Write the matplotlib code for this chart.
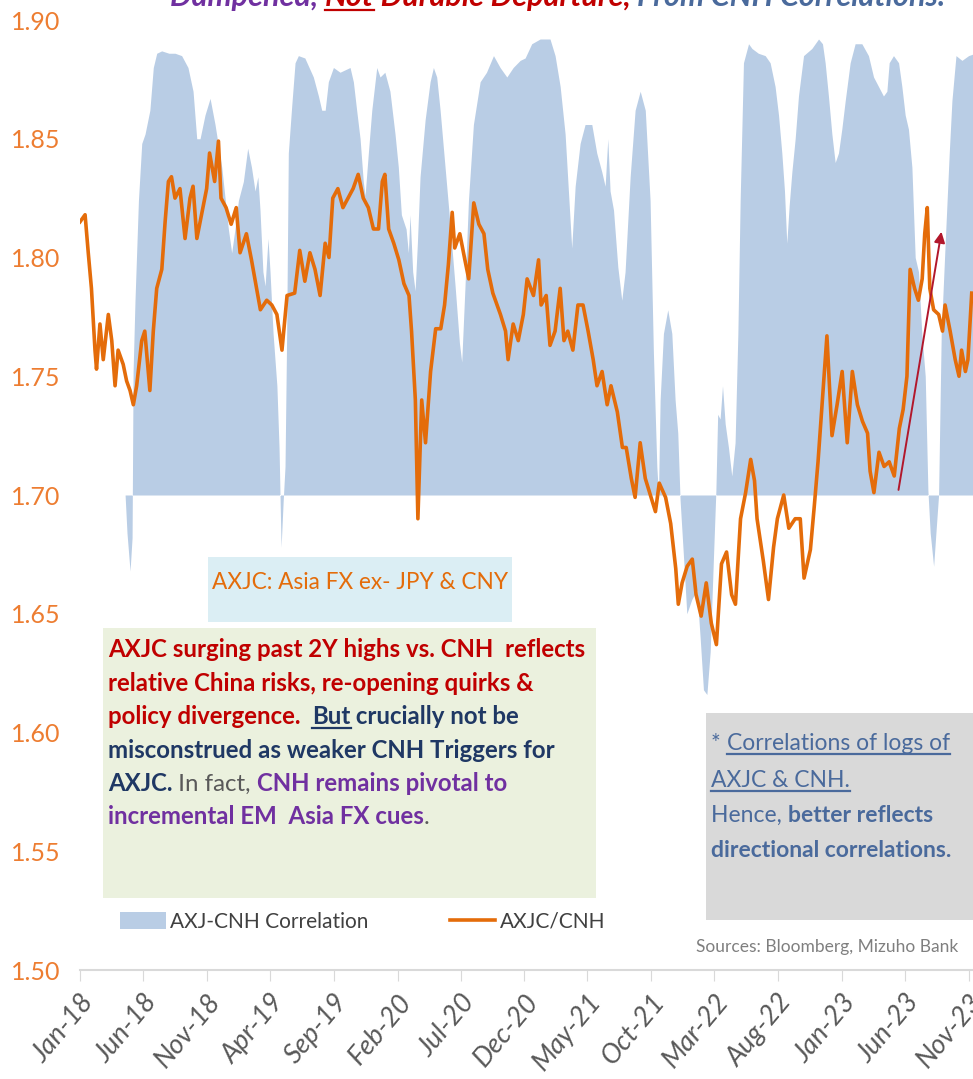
import numpy as np
import pandas as pd
import matplotlib
matplotlib.use("Agg")
import matplotlib.pyplot as plt
from matplotlib.lines import Line2D
from matplotlib.patches import Patch, Rectangle

# AXJC/CNH level (months since Jan-18, level)
axjc_months = [
    0.0, 0.4, 0.65, 0.9, 1.18, 1.3, 1.57, 1.83, 2.23, 2.5, 2.76, 3.0, 3.4, 3.67, 3.94,
    4.2, 4.46, 4.86, 5.1, 5.5, 5.77, 6.04, 6.44, 6.7, 6.96, 7.2, 7.48, 7.87, 8.27, 8.66,
    8.9, 9.2, 9.6, 9.97, 10.2, 10.6, 10.9, 11.1, 11.5, 11.9, 12.3, 12.6, 13.1, 13.5, 13.9,
    14.2, 14.7, 15.1, 15.5, 15.9, 16.3, 16.9, 17.3, 17.7, 18.1, 18.5, 18.9, 19.3, 19.6, 19.9,
    20.3, 20.7, 21.1, 21.5, 21.9, 22.3, 22.7, 23.1, 23.5, 23.8, 24.0, 24.3, 24.7, 25.1, 25.5,
    25.9, 26.1, 26.4, 26.6, 26.9, 27.2, 27.6, 28.0, 28.4, 28.7, 29.0, 29.3, 29.5, 29.9, 30.3,
    30.6, 31.0, 31.4, 31.8, 32.1, 32.5, 33.1, 33.5, 33.7, 34.1, 34.5, 34.9, 35.2, 35.7, 36.1,
    36.3, 36.7, 37.0, 37.4, 37.8, 38.1, 38.4, 38.8, 39.2, 39.6, 40.0, 40.4, 40.7, 41.1, 41.5,
    41.8, 42.3, 42.7, 43.0, 43.4, 43.7, 44.1, 44.5, 44.9, 45.3, 45.6, 46.1, 46.5, 46.9, 47.1,
    47.4, 47.8, 48.2, 48.5, 48.9, 49.3, 49.7, 50.1, 50.5, 50.9, 51.3, 51.6, 52.0, 52.4, 52.8,
    53.1, 53.3, 53.8, 54.2, 54.6, 54.9, 55.4, 55.8, 56.3, 56.7, 57.0, 57.5, 57.8, 58.1, 58.4,
    58.8, 59.2, 59.6, 60.0, 60.4, 60.8, 61.2, 61.6, 62.0, 62.2, 62.5, 62.9, 63.3, 63.7, 64.1,
    64.5, 64.8, 65.1, 65.35, 65.7, 66.0, 66.3, 66.5, 66.7, 66.9, 67.2, 67.6, 67.9, 68.1, 68.5,
    68.9, 69.2, 69.4, 69.7, 69.9, 70.2,
]
axjc_level = [
    1.815, 1.818, 1.802, 1.787, 1.761, 1.753, 1.772, 1.757, 1.776, 1.765, 1.746, 1.761, 1.755, 1.748, 1.744,
    1.738, 1.746, 1.765, 1.769, 1.744, 1.769, 1.787, 1.795, 1.815, 1.832, 1.834, 1.825, 1.829, 1.808, 1.825,
    1.830, 1.808, 1.819, 1.829, 1.844, 1.832, 1.849, 1.825, 1.821, 1.814, 1.821, 1.802, 1.810, 1.799, 1.787,
    1.778, 1.782, 1.780, 1.776, 1.761, 1.784, 1.785, 1.803, 1.790, 1.802, 1.795, 1.784, 1.806, 1.800, 1.825,
    1.829, 1.821, 1.825, 1.829, 1.835, 1.825, 1.821, 1.812, 1.812, 1.832, 1.835, 1.812, 1.806, 1.799, 1.789,
    1.784, 1.769, 1.740, 1.690, 1.740, 1.722, 1.752, 1.770, 1.770, 1.780, 1.797, 1.819, 1.804, 1.810, 1.799,
    1.791, 1.823, 1.814, 1.810, 1.795, 1.785, 1.776, 1.769, 1.757, 1.772, 1.765, 1.776, 1.791, 1.784, 1.799,
    1.780, 1.784, 1.763, 1.769, 1.787, 1.765, 1.769, 1.761, 1.780, 1.780, 1.769, 1.757, 1.746, 1.752, 1.738,
    1.746, 1.735, 1.720, 1.720, 1.707, 1.699, 1.722, 1.707, 1.700, 1.693, 1.705, 1.699, 1.688, 1.669, 1.654,
    1.663, 1.670, 1.673, 1.658, 1.649, 1.663, 1.646, 1.637, 1.671, 1.676, 1.658, 1.654, 1.690, 1.701, 1.715,
    1.706, 1.690, 1.672, 1.656, 1.678, 1.690, 1.700, 1.686, 1.690, 1.690, 1.665, 1.677, 1.695, 1.714, 1.737,
    1.767, 1.725, 1.738, 1.752, 1.722, 1.752, 1.738, 1.731, 1.726, 1.710, 1.701, 1.718, 1.712, 1.714, 1.708,
    1.728, 1.736, 1.750, 1.795, 1.787, 1.782, 1.791, 1.810, 1.821, 1.787, 1.778, 1.776, 1.769, 1.780, 1.769,
    1.757, 1.750, 1.761, 1.752, 1.757, 1.785,
]

# AXJ-CNH correlation (of logs)
corr_months = [
    3.55, 3.7, 3.94, 4.1, 4.18, 4.33, 4.6, 4.86, 5.12, 5.5, 5.77, 6.04, 6.43, 7.0, 7.48,
    8.0, 8.5, 8.9, 9.19, 9.45, 9.84, 10.24, 10.63, 11.16, 11.68, 11.94, 12.2, 12.47, 12.86, 13.2,
    13.5, 13.78, 14.0, 14.17, 14.4, 14.57, 14.8, 14.96, 15.2, 15.5, 15.67, 15.83, 16.0, 16.14, 16.27,
    16.4, 16.67, 16.93, 17.19, 17.7, 18.37, 18.77, 19.03, 19.3, 19.55, 19.95, 20.47, 21.26, 21.52, 21.78,
    22.05, 22.3, 22.44, 22.7, 22.97, 23.36, 23.62, 24.0, 24.4, 24.8, 25.06, 25.3, 25.67, 25.85, 25.98,
    26.19, 26.38, 26.56, 26.77, 27.17, 27.56, 27.82, 28.08, 28.35, 28.74, 29.13, 29.53, 29.87, 30.05, 30.31,
    30.58, 30.97, 31.5, 32.0, 32.55, 33.07, 33.6, 34.1, 34.65, 35.04, 35.56, 36.22, 37.0, 37.4, 37.8,
    38.19, 38.45, 38.71, 38.98, 39.37, 39.76, 40.29, 40.68, 41.08, 41.34, 41.55, 41.73, 42.0, 42.34, 42.65,
    42.91, 43.31, 43.7, 44.1, 44.5, 44.88, 45.14, 45.41, 45.54, 45.67, 45.93, 46.27, 46.59, 46.85, 47.06,
    47.24, 47.51, 47.77, 48.16, 48.56, 48.82, 49.08, 49.35, 49.61, 49.87, 50.06, 50.2, 50.39, 50.58, 50.79,
    51.05, 51.31, 51.57, 51.79, 51.97, 52.23, 52.63, 52.9, 53.4, 53.94, 54.33, 54.72, 54.99, 55.25, 55.46,
    55.64, 55.83, 56.04, 56.3, 56.56, 56.96, 57.61, 58.14, 58.45, 58.66, 58.92, 59.19, 59.45, 59.71, 59.97,
    60.24, 60.63, 61.02, 61.55, 62.07, 62.47, 62.86, 63.25, 63.52, 63.7, 64.04, 64.44, 64.7, 64.96, 65.22,
    65.49, 65.75, 66.01, 66.27, 66.54, 66.75, 66.93, 67.2, 67.38, 67.59, 67.8, 68.11, 68.43, 68.64, 68.96,
    69.43, 69.95, 70.48,
]
corr_value = [
    0.0, -0.08, -0.16, -0.09, 0.26, 0.41, 0.62, 0.74, 0.76, 0.81, 0.90, 0.93, 0.935, 0.93, 0.93,
    0.925, 0.90, 0.85, 0.75, 0.75, 0.80, 0.835, 0.78, 0.69, 0.56, 0.51, 0.56, 0.62, 0.66, 0.73,
    0.69, 0.64, 0.67, 0.60, 0.47, 0.44, 0.54, 0.47, 0.34, 0.23, 0.10, -0.11, -0.01, 0.06, 0.34,
    0.72, 0.82, 0.91, 0.925, 0.92, 0.88, 0.84, 0.81, 0.81, 0.87, 0.90, 0.89, 0.90, 0.87, 0.81,
    0.75, 0.66, 0.63, 0.72, 0.81, 0.90, 0.88, 0.89, 0.85, 0.76, 0.69, 0.59, 0.56, 0.51, 0.59,
    0.47, 0.43, 0.53, 0.67, 0.79, 0.87, 0.90, 0.88, 0.81, 0.69, 0.57, 0.44, 0.32, 0.28, 0.44,
    0.62, 0.78, 0.87, 0.89, 0.925, 0.90, 0.88, 0.90, 0.915, 0.92, 0.95, 0.96, 0.96, 0.925, 0.86,
    0.76, 0.64, 0.52, 0.65, 0.74, 0.78, 0.78, 0.72, 0.68, 0.65, 0.75, 0.64, 0.60, 0.48, 0.41,
    0.47, 0.67, 0.81, 0.85, 0.81, 0.62, 0.30, 0.06, 0.0, 0.20, 0.34, 0.39, 0.34, 0.20, 0.13,
    -0.01, -0.13, -0.25, -0.22, -0.20, -0.30, -0.41, -0.42, -0.33, -0.13, 0.01, 0.17, 0.16, 0.23, 0.15,
    0.10, 0.04, 0.11, 0.34, 0.62, 0.91, 0.95, 0.94, 0.93, 0.925, 0.91, 0.86, 0.80, 0.72, 0.64,
    0.53, 0.61, 0.68, 0.75, 0.84, 0.925, 0.94, 0.96, 0.95, 0.91, 0.84, 0.76, 0.70, 0.72, 0.77,
    0.83, 0.91, 0.95, 0.95, 0.925, 0.88, 0.86, 0.84, 0.85, 0.91, 0.925, 0.91, 0.86, 0.80, 0.77,
    0.69, 0.50, 0.47, 0.34, 0.25, 0.01, -0.08, -0.15, -0.08, 0.0, 0.34, 0.53, 0.72, 0.83, 0.925,
    0.915, 0.925, 0.93,
]

# hand-drawn arrow on the chart (months, level)
arrow_tail = (64.4, 1.701)
arrow_tip = (67.85, 1.812)

ORANGE = "#E46C0A"
BLUE_FILL = "#B9CDE5"
RED = "#C00000"
NAVY = "#1F3864"
PURPLE = "#7030A0"
GREY_TXT = "#595959"
STEEL = "#4A6A9C"

W, H = 973, 1079
START = pd.Timestamp("2018-01-01")


def to_date(m):
    return START + pd.to_timedelta(np.asarray(m, dtype=float) * 30.4375, unit="D")


plt.rcParams["font.family"] = ["Lato", "DejaVu Sans"]

fig = plt.figure(figsize=(W / 100, H / 100), dpi=100)
ax = fig.add_axes([80 / W, 1 - 970 / H, 1 - 80 / W, 950 / H])
ax2 = ax.twinx()

# correlation as shaded area on hidden secondary axis
cd = to_date(corr_months)
ax2.fill_between(cd, 0, corr_value, color=BLUE_FILL, lw=0)
ax2.set_ylim(-1, 1)
ax2.set_yticks([])
for s in ax2.spines.values():
    s.set_visible(False)

ax.set_zorder(ax2.get_zorder() + 1)
ax.patch.set_visible(False)
ax.plot(to_date(axjc_months), axjc_level, color=ORANGE, lw=2.6, solid_joinstyle="round")

ax.annotate("", xy=(to_date(arrow_tip[0]), arrow_tip[1]),
            xytext=(to_date(arrow_tail[0]), arrow_tail[1]),
            arrowprops=dict(arrowstyle="-|>", color="#B2172B", lw=1.4, mutation_scale=16))

ax.set_ylim(1.50, 1.90)
ax.set_yticks(np.arange(1.50, 1.901, 0.05))
ax.set_yticklabels([f"{v:.2f}" for v in np.arange(1.50, 1.901, 0.05)])
ax.tick_params(axis="y", length=0, labelsize=18, labelcolor="#ED7D31", pad=14)

ticks = pd.date_range("2018-01-01", periods=15, freq="5MS")
ax.set_xlim(START, to_date(70.3))
ax.set_xticks(ticks)
ax.set_xticklabels([t.strftime("%b-%y") for t in ticks], rotation=50, ha="right",
                   va="top", rotation_mode="anchor", fontstyle="italic")
ax.tick_params(axis="x", length=8, color="#D9D9D9", labelsize=19.5, labelcolor=GREY_TXT, pad=6)

for side in ["top", "right", "left"]:
    ax.spines[side].set_visible(False)
ax.spines["bottom"].set_color("#D9D9D9")
ax.spines["bottom"].set_linewidth(1.5)

renderer = fig.canvas.get_renderer()


def box(x0, y0, x1, y1, color):
    fig.patches.append(Rectangle((x0 / W, 1 - y1 / H), (x1 - x0) / W, (y1 - y0) / H,
                                 transform=fig.transFigure, facecolor=color,
                                 edgecolor="none", zorder=4))


def rich_line(x_px, y_px, parts, size, style="normal"):
    x = x_px
    for txt, color, weight, under in parts:
        t = fig.text(x / W, 1 - y_px / H, txt, color=color, fontsize=size, fontweight=weight,
                     fontstyle=style, ha="left", va="baseline", zorder=5)
        w = t.get_window_extent(renderer).width
        if under:
            uy = 1 - (y_px + 4) / H
            fig.add_artist(Line2D([x / W, (x + w) / W], [uy, uy], color=color, lw=1.6,
                                  transform=fig.transFigure, zorder=5))
        x += w


# title, clipped by the top edge as in the source
rich_line(170, 6, [("Dampened, ", PURPLE, "bold", False),
                   ("Not", RED, "bold", True),
                   (" Durable Departure, ", RED, "bold", False),
                   ("From CNH Correlations.", STEEL, "bold", False)], 22, "italic")

# AXJC label
box(208, 557, 512, 622, "#DBEEF4")
rich_line(212, 589, [("AXJC: Asia FX ex- JPY & CNY", ORANGE, "normal", False)], 16.3)

# commentary
box(103, 628, 596, 898, "#EBF1DE")
fs = 17.3
rich_line(108, 657, [("AXJC surging past 2Y highs vs. CNH  reflects", RED, "bold", False)], fs)
rich_line(108, 691, [("relative China risks, re-opening quirks &", RED, "bold", False)], fs)
rich_line(108, 724, [("policy divergence.  ", RED, "bold", False),
                     ("But", NAVY, "bold", True),
                     (" crucially not be", NAVY, "bold", False)], fs)
rich_line(108, 758, [("misconstrued as weaker CNH Triggers for", NAVY, "bold", False)], fs)
rich_line(108, 791, [("AXJC.", NAVY, "bold", False),
                     (" In fact, ", GREY_TXT, "normal", False),
                     ("CNH remains pivotal to", PURPLE, "bold", False)], fs)
rich_line(108, 824, [("incremental EM  Asia FX cues", PURPLE, "bold", False),
                     (".", GREY_TXT, "normal", False)], fs)

# footnote box
box(706, 713, 973, 920, "#D9D9D9")
fs2 = 16.5
rich_line(711, 750, [("* ", STEEL, "normal", False),
                     ("Correlations of logs of", STEEL, "normal", True)], fs2)
rich_line(711, 787, [("AXJC & CNH.", STEEL, "normal", True)], fs2)
rich_line(711, 822, [("Hence, ", STEEL, "normal", False),
                     ("better reflects", STEEL, "bold", False)], fs2)
rich_line(711, 857, [("directional correlations.", STEEL, "bold", False)], fs2)

fig.text(958 / W, 1 - 952 / H, "Sources: Bloomberg, Mizuho Bank", ha="right", va="baseline",
         fontsize=12.5, color="#7F7F7F")

handles = [Patch(facecolor=BLUE_FILL, edgecolor="none"),
           Line2D([], [], color=ORANGE, lw=2.6)]
fig.legend(handles, ["AXJ-CNH Correlation", "AXJC/CNH"], ncol=2, frameon=False,
           loc="center left", bbox_to_anchor=(120 / W, 1 - 922 / H), fontsize=15,
           labelcolor="#404040", handlelength=2.2, handleheight=0.9, handletextpad=0.2,
           columnspacing=3.9, borderpad=0, borderaxespad=0)

fig.savefig("out.png", dpi=100)
